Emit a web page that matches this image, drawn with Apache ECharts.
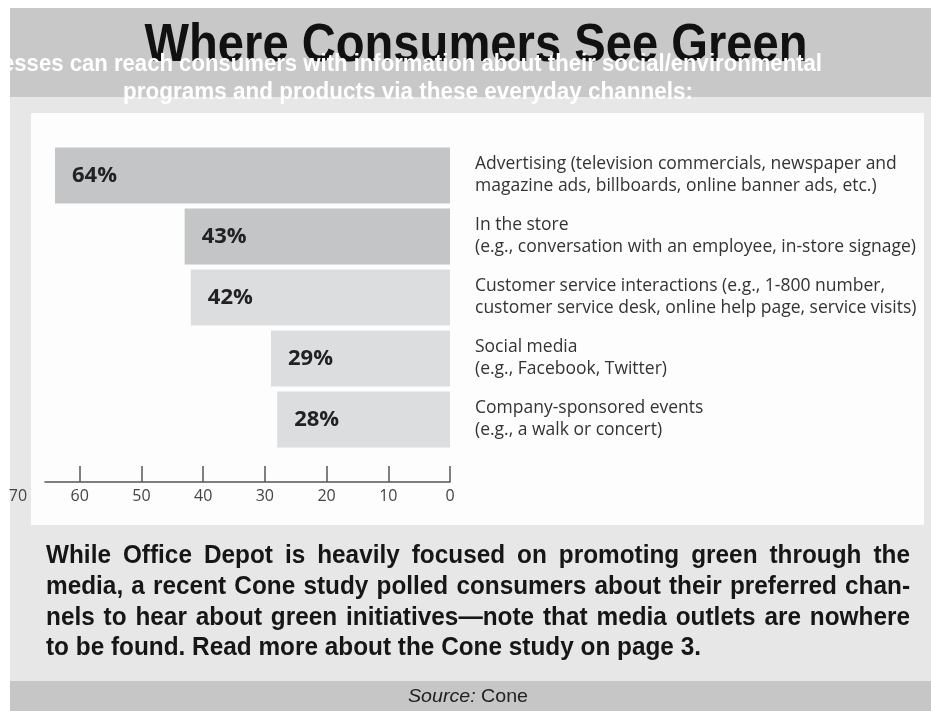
<!DOCTYPE html>
<html><head><meta charset="utf-8">
<script src="https://cdn.jsdelivr.net/npm/echarts@6/dist/echarts.min.js"></script>
<style>html,body{margin:0;padding:0;background:#fff}#c{width:931px;height:711px}</style>
</head><body><div id="c"></div>
<script>
const categories = [
  "Advertising (television commercials, newspaper and\nmagazine ads, billboards, online banner ads, etc.)",
  "In the store\n(e.g., conversation with an employee, in-store signage)",
  "Customer service interactions (e.g., 1-800 number,\ncustomer service desk, online help page, service visits)",
  "Social media\n(e.g., Facebook, Twitter)",
  "Company-sponsored events\n(e.g., a walk or concert)"
];
const values = [64, 43, 42, 29, 28];
const barShades = ["#c4c5c7", "#c4c5c7", "#dcdddf", "#dcdddf", "#dcdddf"];
const tickValues = [0, 10, 20, 30, 40, 50, 60];
const titleText = "Where Consumers See Green";
const subtitleLines = [
  "esses can reach consumers with information about their social/environmental",
  "programs and products via these everyday channels:"
];
const paragraphLines = [
  "While Office Depot is heavily focused on promoting green through the",
  "media, a recent Cone study polled consumers about their preferred chan-",
  "nels to hear about green initiatives\u2014note that media outlets are nowhere",
  "to be found. Read more about the Cone study on page 3."
];

const SANS = "'Liberation Sans', Arial, sans-serif";
const chart = echarts.init(document.getElementById('c'), null, {renderer: 'canvas'});

const cv = document.createElement('canvas').getContext('2d');
function measure(font, text) { cv.font = font; return cv.measureText(text).width; }
function fitText(text, font, targetW, x, y, align, fill, z) {
  const s = targetW / measure(font, text);
  return {type: 'text', silent: true, z: z, x: x, y: y, scaleX: s,
    style: {text: text, font: font, fill: fill, align: align, verticalAlign: 'middle'}};
}

// justified paragraph (condensed face)
const pFont = 'bold 26px ' + SANS;
const pLeft = 46, pRight = 910, pY = [556, 587, 618, 648];
const pScale = 812 / measure(pFont, paragraphLines[0]);
const paraEls = [];
paragraphLines.forEach((line, li) => {
  const words = line.split(' ');
  const widths = words.map(w => measure(pFont, w) * pScale);
  const total = widths.reduce((a, b) => a + b, 0);
  const last = li === paragraphLines.length - 1;
  const gap = last ? measure(pFont, ' ') * pScale : (pRight - pLeft - total) / (words.length - 1);
  let x = pLeft;
  words.forEach((w, i) => {
    paraEls.push({type: 'text', silent: true, z: 5, x: x, y: pY[li], scaleX: pScale,
      style: {text: w, fill: '#161616', font: pFont, verticalAlign: 'middle', align: 'left'}});
    x += widths[i] + gap;
  });
});

const srcFont = '19px ' + SANS;
const srcScale = 120 / (measure('italic ' + srcFont, 'Source: ') + measure(srcFont, 'Cone'));

const option = {
  animation: false,
  backgroundColor: '#ffffff',
  grid: [
    {left: 18, right: 481, top: 145, height: 305, containLabel: false, outerBoundsMode: 'none'},
    {left: 45, right: 481, top: 145, height: 305, containLabel: false, outerBoundsMode: 'none'}
  ],
  xAxis: [{
    type: 'value', inverse: true, min: 0, max: 70, interval: 10, position: 'bottom', offset: 32,
    splitLine: {show: false},
    axisLine: {show: false},
    axisTick: {show: true, inside: true, length: 16, lineStyle: {color: '#555', width: 1.5}, customValues: tickValues},
    axisLabel: {fontFamily: 'Open Sans', fontSize: 16, color: '#444', margin: 6}
  }, {
    gridIndex: 1, type: 'value', min: 0, max: 1, position: 'bottom', offset: 32,
    splitLine: {show: false}, axisTick: {show: false}, axisLabel: {show: false},
    axisLine: {show: true, onZero: false, lineStyle: {color: '#555', width: 1.5}}
  }],
  yAxis: [{
    type: 'category', data: categories, inverse: true, position: 'right',
    axisLine: {show: false}, axisTick: {show: false}, splitLine: {show: false},
    axisLabel: {align: 'left', margin: 25, fontFamily: 'Open Sans', fontSize: 17.5, lineHeight: 22, color: '#333'}
  }, {
    gridIndex: 1, type: 'value', show: false, min: 0, max: 1
  }],
  series: [{
    type: 'bar', silent: true, barCategoryGap: '8%',
    data: values.map((v, i) => ({value: v, itemStyle: {color: barShades[i]}})),
    label: {show: true, position: 'insideLeft', distance: 17, formatter: '{c}%',
      fontFamily: 'Open Sans', fontWeight: 'bold', fontSize: 22, color: '#222'}
  }],
  graphic: {elements: [
    {type: 'rect', silent: true, z: -10, shape: {x: 10, y: 8, width: 921, height: 89}, style: {fill: '#c8c8c8'}},
    {type: 'rect', silent: true, z: -10, shape: {x: 10, y: 97, width: 921, height: 584}, style: {fill: '#e7e7e7'}},
    {type: 'rect', silent: true, z: -9, shape: {x: 31, y: 113, width: 893, height: 412}, style: {fill: '#fdfdfd'}},
    {type: 'rect', silent: true, z: -10, shape: {x: 10, y: 681, width: 921, height: 30}, style: {fill: '#c6c6c6'}},
    fitText(titleText, 'bold 54px ' + SANS, 663, 476, 46, 'center', '#111', 5),
    fitText(subtitleLines[0], 'bold 23px ' + SANS, 820, 2, 65, 'left', '#ffffff', 6),
    fitText(subtitleLines[1], 'bold 23px ' + SANS, 570, 408, 93, 'center', '#ffffff', 6),
    {type: 'text', silent: true, z: 5, x: 468, y: 697, scaleX: srcScale,
      style: {text: '{i|Source:} Cone', align: 'center', verticalAlign: 'middle', fill: '#222', font: srcFont,
        rich: {i: {fontStyle: 'italic', fontFamily: SANS, fontSize: 19, fill: '#222'}}}}
  ].concat(paraEls)}
};
chart.setOption(option);
</script></body></html>
